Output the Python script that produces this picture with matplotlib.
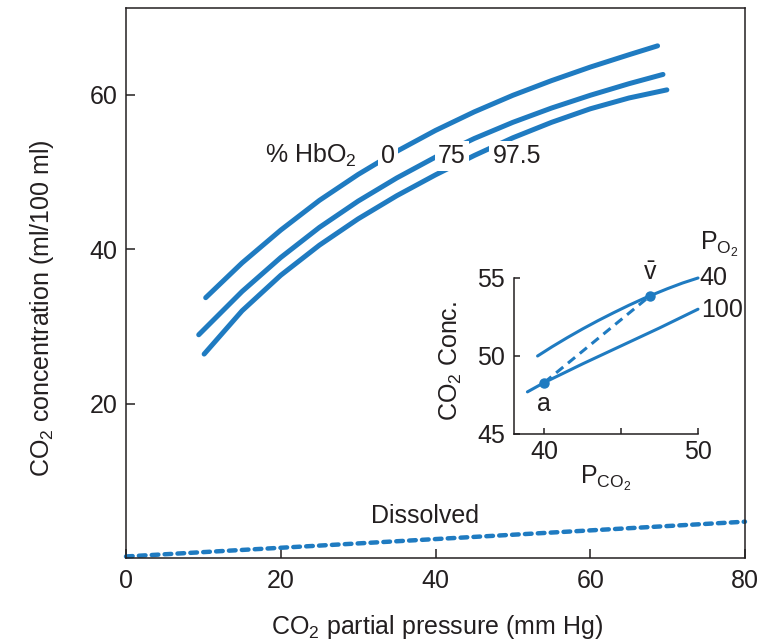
import matplotlib
matplotlib.use("Agg")
import matplotlib.pyplot as plt

plt.rcParams['font.family'] = ['Liberation Sans', 'DejaVu Sans']
plt.rcParams['mathtext.fontset'] = 'custom'
plt.rcParams['mathtext.rm'] = 'Liberation Sans'
plt.rcParams['mathtext.it'] = 'Liberation Sans:italic'

BLUE = '#1f7bc1'
INK = '#231f20'
FS = 18

# Main curves: CO2 content of blood at three HbO2 saturations
hb0_x = [10.3, 15, 20, 25, 30, 35, 40, 45, 50, 55, 60, 65, 68.7]
hb0_y = [33.7, 38.2, 42.45, 46.3, 49.65, 52.65, 55.35, 57.75, 59.9, 61.8, 63.55, 65.15, 66.3]
hb75_x = [9.4, 15, 20, 25, 30, 35, 40, 45, 50, 55, 60, 65, 69.4]
hb75_y = [28.9, 34.5, 38.9, 42.8, 46.2, 49.2, 51.9, 54.3, 56.4, 58.25, 59.9, 61.4, 62.6]
hb975_x = [10.1, 15, 20, 25, 30, 35, 40, 45, 50, 55, 60, 65, 69.9]
hb975_y = [26.4, 32.0, 36.6, 40.5, 43.9, 46.9, 49.6, 52.1, 54.4, 56.4, 58.15, 59.55, 60.6]
curve_labels = ['0', '75', '97.5']
label_x = [33.85, 42.1, 50.5]

# Dissolved CO2
dis_x = [0, 80]
dis_y = [0.2, 4.7]

# Inset: PO2 = 40 and PO2 = 100 curves
po40_x = [39.56, 40.5, 41.5, 42.5, 43.5, 44.5, 45.5, 46.5, 46.9, 48.0, 49.0, 50.0]
po40_y = [50.0, 50.59, 51.18, 51.74, 52.27, 52.77, 53.25, 53.70, 53.87, 54.31, 54.68, 55.0]
po100_x = [38.9, 40.0, 42.5, 45.0, 47.5, 50.0]
po100_y = [47.7, 48.3, 49.5, 50.65, 51.8, 53.0]
pt_a = (40.0, 48.3)
pt_v = (46.9, 53.87)

fig = plt.figure(figsize=(7.82, 6.43), dpi=100)
ax = fig.add_axes([126 / 782, 85 / 643, 619 / 782, 550 / 643])

for xs, ys in [(hb0_x, hb0_y), (hb75_x, hb75_y), (hb975_x, hb975_y)]:
    ax.plot(xs, ys, color=BLUE, lw=3.6, solid_capstyle='round', solid_joinstyle='round', zorder=2)

ax.plot(dis_x, dis_y, color=BLUE, lw=3.2, linestyle=(0, (1.5, 1.4)),
        dash_capstyle='round', clip_on=False, zorder=2)

ax.set_xlim(0, 80)
ax.set_ylim(0, 71.2)
ax.set_xticks([0, 20, 40, 60, 80])
ax.set_yticks([20, 40, 60])
ax.tick_params(direction='in', length=6.5, width=1.1, colors=INK, labelsize=FS)
ax.tick_params(axis='x', pad=8)
ax.tick_params(axis='y', pad=6)
for sp in ax.spines.values():
    sp.set_linewidth(1.1)
    sp.set_color(INK)

ax.set_xlabel(r'CO$\mathregular{_2}$ partial pressure (mm Hg)', fontsize=FS, color=INK)
ax.set_ylabel(r'CO$\mathregular{_2}$ concentration (ml/100 ml)', fontsize=FS, color=INK)
ax.xaxis.set_label_coords(0.503, -0.1)
ax.yaxis.set_label_coords(-0.113, 0.455)

ax.text(18.0, 51.1, r'% HbO$\mathregular{_2}$', fontsize=FS, color=INK, va='baseline', ha='left', zorder=3)
for lx, lab in zip(label_x, curve_labels):
    ax.text(lx, 51.1, lab, fontsize=FS, color=INK, va='baseline', ha='center', zorder=3,
            bbox=dict(boxstyle='square,pad=0.12', fc='white', ec='none'))
ax.text(38.6, 5.5, 'Dissolved', fontsize=FS, color=INK, ha='center', va='center')

# Inset
ins = fig.add_axes([513.6 / 782, (643 - 434) / 643, 184.4 / 782, 156 / 643], facecolor='none')
ins.plot(po40_x, po40_y, color=BLUE, lw=2.2, solid_capstyle='round', solid_joinstyle='round', clip_on=False)
ins.plot(po100_x, po100_y, color=BLUE, lw=2.2, solid_capstyle='round', solid_joinstyle='round', clip_on=False)
ins.plot([pt_a[0], pt_v[0]], [pt_a[1], pt_v[1]], color=BLUE, lw=2.2, linestyle=(0, (3, 2)))
ins.plot([pt_a[0], pt_v[0]], [pt_a[1], pt_v[1]], 'o', color=BLUE, ms=6.5, clip_on=False)
ins.set_xlim(38, 50)
ins.set_ylim(45, 55)
ins.set_xticks([40, 45, 50])
ins.set_xticklabels(['40', '', '50'])
ins.set_yticks([45, 50, 55])
ins.spines['top'].set_visible(False)
ins.spines['right'].set_visible(False)
for sp in ['left', 'bottom']:
    ins.spines[sp].set_linewidth(1.1)
    ins.spines[sp].set_color(INK)
ins.tick_params(direction='in', length=4.5, width=1.1, colors=INK, labelsize=FS)
ins.tick_params(axis='y', pad=6)
ins.tick_params(axis='x', pad=4)
ins.set_ylabel(r'CO$\mathregular{_2}$ Conc.', fontsize=FS, color=INK)
ins.yaxis.set_label_coords(-0.27, 0.47)
ins.set_xlabel(r'$\mathregular{P_{CO_2}}$', fontsize=FS, color=INK, labelpad=0)
ins.text(pt_v[0], 55.3, r'$\mathregular{\bar{v}}$', fontsize=FS, color=INK, ha='center', va='center')
ins.text(39.95, 46.9, 'a', fontsize=FS, color=INK, ha='center', va='center')
ins.text(50.1, 55.0, '40', fontsize=FS, color=INK, ha='left', va='center')
ins.text(50.2, 52.95, '100', fontsize=FS, color=INK, ha='left', va='center')
ins.text(50.1, 56.8, r'$\mathregular{P_{O_2}}$', fontsize=FS, color=INK, ha='left', va='baseline')

fig.savefig('out.png', dpi=100)
